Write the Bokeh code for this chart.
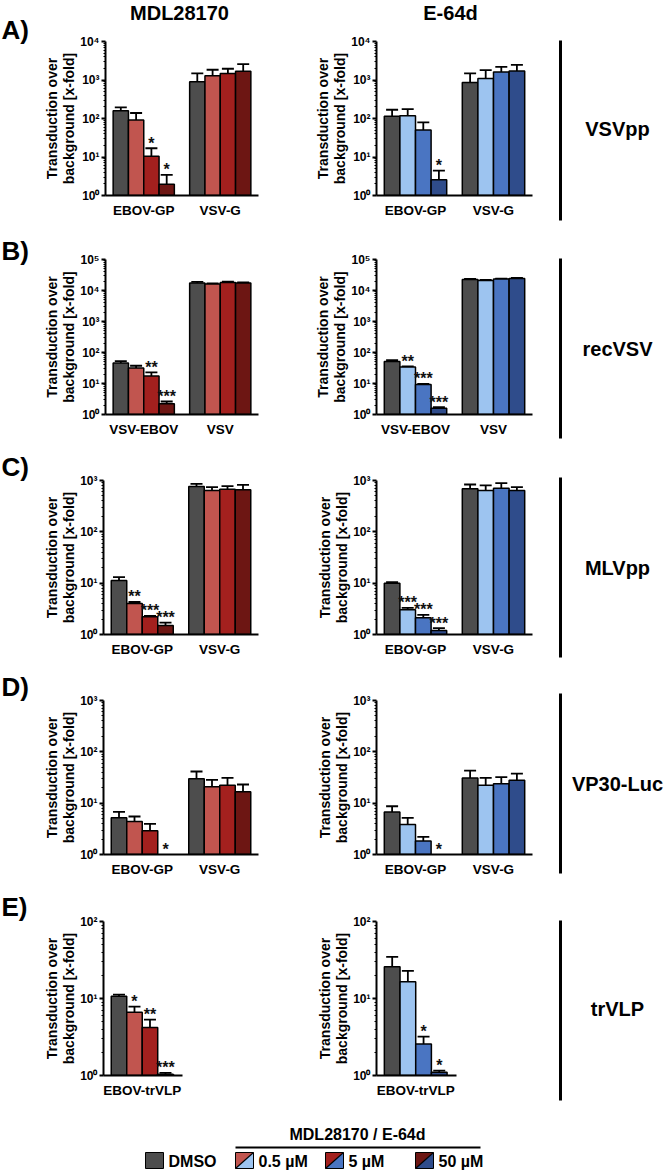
from bokeh.plotting import figure
from bokeh.models import (Range1d, FixedTicker, CustomJSTickFormatter, ColumnDataSource,
                          Whisker, TeeHead)
from bokeh.layouts import row, column
from bokeh.core.properties import value
from bokeh.embed import file_html
from bokeh.resources import INLINE

FONT = "Liberation Sans"

# ---------------- data ----------------
treatments = ["DMSO", "0.5 µM", "5 µM", "50 µM"]
gray = "#4d4d4d"
mdl_colors = [gray, "#c1554f", "#a3201e", "#6d1613"]
e64_colors = [gray, "#9dc4f0", "#4a75c2", "#2f4c8b"]

drug_titles = ["MDL28170", "E-64d"]
row_letters = ["A)", "B)", "C)", "D)", "E)"]
row_names = ["VSVpp", "recVSV", "MLVpp", "VP30-Luc", "trVLP"]
y_title = "Transduction over\nbackground [x-fold]"

groups_A = ["EBOV-GP", "VSV-G"]
groups_B = ["VSV-EBOV", "VSV"]
groups_C = ["EBOV-GP", "VSV-G"]
groups_D = ["EBOV-GP", "VSV-G"]
groups_E = ["EBOV-trVLP"]

# A) VSVpp
A_mdl_mean = [160, 91, 10.5, 1.97, 900, 1290, 1480, 1700]
A_mdl_lo = [114, 41, 3.6, 1.0, 333, 709, 956, 582]
A_mdl_hi = [195, 139, 16.9, 3.43, 1482, 1845, 1958, 2588]
A_mdl_sig = ["", "", "*", "*", "", "", "", ""]
A_e64_mean = [114, 118, 50, 2.55, 866, 1099, 1604, 1702]
A_e64_lo = [61, 59, 20.6, 1.55, 279, 415, 1000, 956]
A_e64_hi = [169, 176, 79.5, 4.45, 1482, 1807, 2204, 2485]
A_e64_sig = ["", "", "", "*", "", "", "", ""]

# B) recVSV
B_mdl_mean = [45.6, 31.5, 17.3, 2.21, 17600, 16340, 18040, 17600]
B_mdl_lo = [38.4, 25.8, 12.3, 1.81, 15500, 15800, 16800, 17000]
B_mdl_hi = [53, 37.4, 22.8, 2.63, 18970, 16900, 19300, 18200]
B_mdl_sig = ["", "", "**", "***", "", "", "", ""]
B_e64_mean = [51.7, 33.9, 9.33, 1.6, 22570, 20930, 23700, 24300]
B_e64_lo = [45.6, 32, 9.0, 1.45, 21500, 19900, 23100, 23100]
B_e64_hi = [57, 35.5, 9.7, 1.73, 23600, 21900, 24300, 25500]
B_e64_sig = ["", "**", "***", "***", "", "", "", ""]

# C) MLVpp
C_mdl_mean = [11.3, 4.02, 2.21, 1.5, 764, 638, 678, 658]
C_mdl_lo = [9.4, 3.78, 2.11, 1.27, 658, 534, 575, 488]
C_mdl_hi = [13.1, 4.3, 2.31, 1.71, 861, 741, 776, 824]
C_mdl_sig = ["", "**", "***", "***", "", "", "", ""]
C_e64_mean = [10.0, 3.02, 2.11, 1.2, 688, 638, 709, 638]
C_e64_lo = [9.4, 2.8, 1.82, 1.06, 550, 495, 534, 534]
C_e64_hi = [10.5, 3.31, 2.42, 1.33, 836, 800, 887, 741]
C_e64_sig = ["", "***", "***", "***", "", "", "", ""]

# D) VP30-Luc
D_mdl_mean = [5.18, 4.39, 2.89, None, 29.8, 20.8, 22.4, 16.6]
D_mdl_lo = [3.51, 3.26, 1.79, None, 18.2, 13.1, 12.7, 9.4]
D_mdl_hi = [6.78, 5.5, 3.96, None, 41.4, 28.5, 31.2, 23.1]
D_mdl_sig = ["", "", "", "*", "", "", "", ""]
D_e64_mean = [6.76, 3.83, 1.84, None, 30.9, 22.3, 24.0, 27.9]
D_e64_lo = [4.52, 2.45, 1.47, None, 18.6, 13.4, 15.5, 16.3]
D_e64_hi = [8.7, 5.16, 2.2, None, 43, 31, 32.3, 37.6]
D_e64_sig = ["", "", "", "*", "", "", "", ""]

# E) trVLP
E_mdl_mean = [10.7, 6.62, 4.19, 1.04]
E_mdl_lo = [10.05, 5.37, 3.14, 1.0]
E_mdl_hi = [11.2, 7.84, 5.32, 1.08]
E_mdl_sig = ["", "*", "**", "***"]
E_e64_mean = [25.9, 16.5, 2.57, 1.1]
E_e64_lo = [17.0, 9.86, 1.91, 1.05]
E_e64_hi = [34.8, 22.9, 3.2, 1.16]
E_e64_sig = ["", "", "*", "*"]

# ---------------- layout constants (pixels) ----------------
TITLE_H = 24
# (row height, frame top border, frame height, letter centre y, label line y0, y1, label text y)
ROWS = [
    (228, 41, 154, 29, 40, 220, 128),
    (220, 31, 155, 22, 30, 210, 120),
    (220, 32, 154, 18, 29, 209, 119),
    (220, 32, 154, 18, 25, 205, 115),
    (217, 33, 154, 18, 32, 212, 120),
]
LETTER_W, LEFT_W, RIGHT_W, LABEL_W = 40, 260, 253, 112

SUP = """
const s = {"0":"\u2070","1":"\u00b9","2":"\u00b2","3":"\u00b3","4":"\u2074","5":"\u2075","6":"\u2076"};
const e = Math.round(Math.log10(tick));
return "10" + String(e).split("").map(c => s[c]).join("");
"""


def blank_fig(w, h):
    p = figure(width=w, height=h, x_range=Range1d(0, w), y_range=Range1d(h, 0),
               min_border=0, output_backend="svg", toolbar_location=None, title=None,
               x_axis_location=None, y_axis_location=None, outline_line_color=None,
               frame_align=False)
    p.grid.visible = False
    return p


def bold_text(p, x, y, txt, size, align="left"):
    p.text(x=[x], y=[y], text=[txt], text_align=align, text_baseline="middle",
           text_font=value(FONT), text_font_style="bold", text_font_size=size,
           text_color="black")


def make_panel(mean, lo, hi, sig, groups, colors, top_exp, side, row_h, border_t, frame_h):
    if side == "left":
        fig_w, border_l, px = LEFT_W, 63, 7.75
    else:
        fig_w, border_l, px = RIGHT_W, 76, 7.8
    n = len(groups)
    units = 10 * n + (0.2 if n == 1 else 0)
    frame_w = int(round(units * px))
    border_r = fig_w - border_l - frame_w
    border_b = row_h - border_t - frame_h

    p = figure(width=fig_w, height=row_h, y_axis_type="log",
               x_range=Range1d(-1, -1 + units), y_range=Range1d(1, 10 ** top_exp),
               min_border_left=border_l, min_border_right=border_r,
               min_border_top=border_t, min_border_bottom=border_b,
               output_backend="svg", toolbar_location=None, title=None,
               outline_line_color=None, frame_align=False)
    p.xgrid.visible = False
    p.ygrid.visible = False

    bx, btop, bcol = [], [], []
    wx, wlo, whi = [], [], []
    sx, sy, st = [], [], []
    for g in range(n):
        for i in range(4):
            k = g * 4 + i
            x = 10 * g + 2 * i + 1
            if mean[k] is not None:
                bx.append(x); btop.append(mean[k]); bcol.append(colors[i])
                wx.append(x); wlo.append(lo[k]); whi.append(hi[k])
            if sig[k]:
                sx.append(x)
                sy.append(hi[k] if hi[k] is not None else 1)
                st.append(sig[k])
    src = ColumnDataSource(dict(x=bx, top=btop, color=bcol))
    p.vbar(x="x", top="top", bottom=1, width=2, fill_color="color",
           line_color="black", line_width=1.5, source=src)
    wsrc = ColumnDataSource(dict(x=wx, lo=wlo, hi=whi))
    p.add_layout(Whisker(base="x", upper="hi", lower="lo", source=wsrc,
                         line_color="black", line_width=1.8,
                         upper_head=TeeHead(size=12, line_width=1.8, line_color="black"),
                         lower_head=TeeHead(size=12, line_width=1.8, line_color="black")))
    ssrc = ColumnDataSource(dict(x=sx, y=sy, t=st))
    p.text(x="x", y="y", text="t", source=ssrc, text_align="center",
           text_baseline="middle", y_offset=-5, text_font=value(FONT),
           text_font_size="16px", text_font_style="bold", text_color="#111111")

    yax = p.yaxis[0]
    yax.ticker = FixedTicker(ticks=[10 ** k for k in range(top_exp + 1)],
                             minor_ticks=[m * 10 ** k for k in range(top_exp) for m in range(2, 10)])
    yax.formatter = CustomJSTickFormatter(code=SUP)
    yax.axis_line_width = 2
    yax.major_tick_line_width = 2
    yax.major_tick_out = 4
    yax.major_tick_in = 0
    yax.minor_tick_out = 2
    yax.minor_tick_in = 0
    yax.minor_tick_line_width = 1.2
    yax.major_label_standoff = 2
    yax.major_label_text_font = FONT
    yax.major_label_text_font_style = "bold"
    yax.major_label_text_font_size = "12px"
    yax.major_label_text_color = "black"
    yax.axis_label = y_title
    yax.axis_label_text_font = FONT
    yax.axis_label_text_font_style = "bold"
    yax.axis_label_text_font_size = "14px"
    yax.axis_label_text_color = "black"
    yax.axis_label_text_line_height = 1.1
    yax.axis_label_standoff = 0

    xax = p.xaxis[0]
    xax.ticker = FixedTicker(ticks=[10 * g + 4 for g in range(n)])
    xax.major_label_overrides = {10 * g + 4: groups[g] for g in range(n)}
    xax.axis_line_width = 2
    xax.major_tick_out = 0
    xax.major_tick_in = 0
    xax.minor_tick_out = 0
    xax.minor_tick_in = 0
    xax.major_label_standoff = 7
    xax.major_label_text_font = FONT
    xax.major_label_text_font_style = "bold"
    xax.major_label_text_font_size = "13.5px"
    xax.major_label_text_color = "black"
    return p


panels = [
    (A_mdl_mean, A_mdl_lo, A_mdl_hi, A_mdl_sig, A_e64_mean, A_e64_lo, A_e64_hi, A_e64_sig, groups_A, 4),
    (B_mdl_mean, B_mdl_lo, B_mdl_hi, B_mdl_sig, B_e64_mean, B_e64_lo, B_e64_hi, B_e64_sig, groups_B, 5),
    (C_mdl_mean, C_mdl_lo, C_mdl_hi, C_mdl_sig, C_e64_mean, C_e64_lo, C_e64_hi, C_e64_sig, groups_C, 3),
    (D_mdl_mean, D_mdl_lo, D_mdl_hi, D_mdl_sig, D_e64_mean, D_e64_lo, D_e64_hi, D_e64_sig, groups_D, 3),
    (E_mdl_mean, E_mdl_lo, E_mdl_hi, E_mdl_sig, E_e64_mean, E_e64_lo, E_e64_hi, E_e64_sig, groups_E, 2),
]

TOTAL_W = LETTER_W + LEFT_W + RIGHT_W + LABEL_W
PANELS_W = LEFT_W + RIGHT_W + LABEL_W

rows = []
for r, (mm, ml, mh, ms, em, el, eh, es, grp, texp) in enumerate(panels):
    row_h, border_t, frame_h, letter_y, y0, y1, ty = ROWS[r]
    letter = blank_fig(LETTER_W, row_h)
    bold_text(letter, 1, letter_y, row_letters[r], "26px")
    top = TITLE_H if r == 0 else 0   # first row carries the column titles
    ph = row_h - top
    left = make_panel(mm, ml, mh, ms, grp, mdl_colors, texp, "left", ph, border_t - top, frame_h)
    right = make_panel(em, el, eh, es, grp, e64_colors, texp, "right", ph, border_t - top, frame_h)
    lab = blank_fig(LABEL_W, ph)
    lab.segment(x0=[7], y0=[y0 - top], x1=[7], y1=[y1 - top], line_width=3, line_color="black")
    bold_text(lab, 64, ty - top, row_names[r], "20px", align="center")
    body = row(left, right, lab)
    if r == 0:
        tfig = blank_fig(PANELS_W, TITLE_H)
        bold_text(tfig, 179 - LETTER_W, 12, drug_titles[0], "20px", align="center")
        bold_text(tfig, 450 - LETTER_W, 12, drug_titles[1], "20px", align="center")
        body = column(tfig, body)
    rows.append(row(letter, body))

# ---------------- legend ----------------
LH = 67
leg = blank_fig(TOTAL_W, LH)
bold_text(leg, 357, 29, "MDL28170 / E-64d", "16px", align="center")
leg.segment(x0=[235], y0=[42], x1=[480], y1=[42], line_width=2, line_color="black")
sw_x = [145, 235, 325, 415]
y0, y1 = 47, 63
for i, x0 in enumerate(sw_x):
    x1 = x0 + 18
    if i == 0:
        leg.quad(left=[x0], right=[x1], top=[y0], bottom=[y1], fill_color=gray,
                 line_color="black", line_width=1)
    else:
        leg.patches(xs=[[x0, x1, x0], [x1, x1, x0]], ys=[[y0, y0, y1], [y0, y1, y1]],
                    fill_color=[mdl_colors[i], e64_colors[i]], line_color=None)
        leg.segment(x0=[x0], y0=[y1], x1=[x1], y1=[y0], line_color="black", line_width=1.2)
        leg.quad(left=[x0], right=[x1], top=[y0], bottom=[y1], fill_color=None,
                 line_color="black", line_width=1)
    bold_text(leg, x1 + 5, 56, treatments[i], "16px")
rows.append(leg)

root = column(*rows)

with open("out.html", "w") as f:
    f.write(file_html(root, INLINE))
